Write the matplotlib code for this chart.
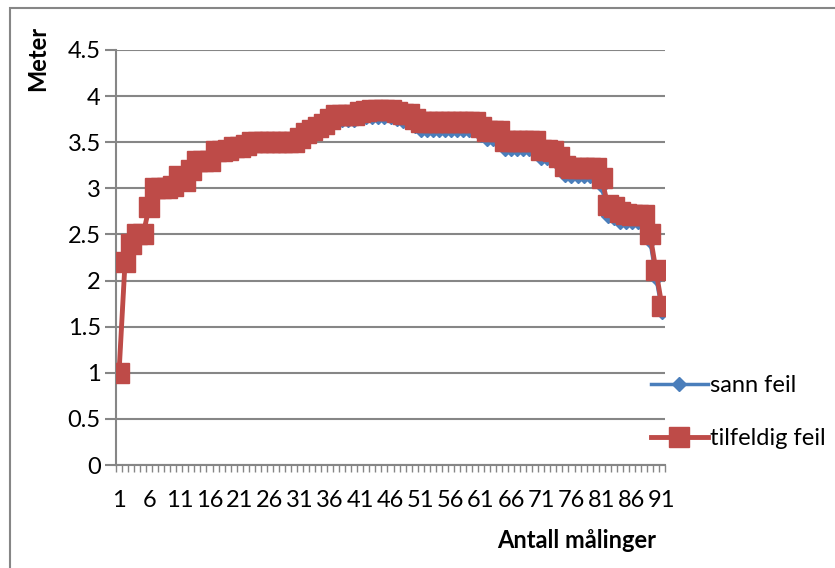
import matplotlib
matplotlib.use("Agg")
import matplotlib.pyplot as plt
from matplotlib.patches import Rectangle

plt.rcParams['font.family'] = ['Lato', 'DejaVu Sans']

# measurement number 1..91
maalinger = list(range(1, 92))

# true error ("sann feil")
sann_feil = [1.0, 2.2, 2.4, 2.5, 2.5, 2.8, 3.0, 3.0, 3.0, 3.0,
             3.1, 3.1, 3.2, 3.3, 3.3, 3.3, 3.4, 3.4, 3.43, 3.43,
             3.43, 3.43, 3.5, 3.5, 3.5, 3.5, 3.5, 3.5, 3.5, 3.5,
             3.53, 3.58, 3.61, 3.64, 3.68, 3.71, 3.74, 3.74, 3.74, 3.74,
             3.76, 3.77, 3.77, 3.77, 3.77, 3.77, 3.75, 3.73, 3.73, 3.68,
             3.63, 3.63, 3.63, 3.63, 3.63, 3.63, 3.63, 3.63, 3.63, 3.63,
             3.58, 3.53, 3.53, 3.53, 3.43, 3.43, 3.43, 3.43, 3.43, 3.43,
             3.33, 3.33, 3.33, 3.25, 3.15, 3.13, 3.13, 3.13, 3.13, 3.13,
             3.02, 2.7, 2.68, 2.63, 2.63, 2.63, 2.63, 2.63, 2.43, 2.03,
             1.66]

# with random error ("tilfeldig feil")
tilfeldig_feil = [1.0, 2.2, 2.4, 2.5, 2.5, 2.8, 3.0, 3.0, 3.0, 3.03,
                  3.13, 3.08, 3.2, 3.3, 3.3, 3.3, 3.4, 3.4, 3.42, 3.45,
                  3.45, 3.47, 3.5, 3.5, 3.5, 3.5, 3.5, 3.5, 3.5, 3.5,
                  3.55, 3.6, 3.63, 3.66, 3.7, 3.75, 3.8, 3.8, 3.8, 3.8,
                  3.83, 3.84, 3.85, 3.85, 3.85, 3.85, 3.83, 3.81, 3.81, 3.75,
                  3.72, 3.72, 3.72, 3.72, 3.72, 3.72, 3.72, 3.72, 3.72, 3.72,
                  3.67, 3.62, 3.62, 3.62, 3.51, 3.51, 3.51, 3.51, 3.51, 3.51,
                  3.42, 3.42, 3.41, 3.34, 3.24, 3.22, 3.22, 3.22, 3.22, 3.22,
                  3.11, 2.82, 2.8, 2.74, 2.72, 2.71, 2.71, 2.71, 2.51, 2.11,
                  1.72]

y_ticks = [0, 0.5, 1, 1.5, 2, 2.5, 3, 3.5, 4, 4.5]
y_ticklabels = ["0", "0.5", "1", "1.5", "2", "2.5", "3", "3.5", "4", "4.5"]
x_ticks = list(range(1, 92, 5))

grey = "#868686"
blue = "#4A7EBB"
red = "#BE4B48"

fig = plt.figure(figsize=(8.35, 5.68), dpi=100)
ax = fig.add_axes([116 / 835, 1 - 465 / 568, 549 / 835, 415 / 568])

ax.plot(maalinger, sann_feil, color=blue, lw=2.5, marker="D", markersize=7,
        label="sann feil", zorder=3)
ax.plot(maalinger, tilfeldig_feil, color=red, lw=3.5, marker="s", markersize=14,
        label="tilfeldig feil", zorder=4)

ax.set_xlim(0.5, 91.5)
ax.set_ylim(0, 4.5)

ax.set_yticks(y_ticks)
ax.set_yticklabels(y_ticklabels)
ax.set_xticks(x_ticks)
ax.set_xticklabels([str(t) for t in x_ticks])
ax.set_xticks([i + 0.5 for i in range(0, 92)], minor=True)

ax.grid(axis="y", color=grey, lw=1.5, zorder=0)
ax.set_axisbelow(True)
for side in ["top", "right"]:
    ax.spines[side].set_visible(False)
for side in ["left", "bottom"]:
    ax.spines[side].set_color(grey)
    ax.spines[side].set_linewidth(1.5)

ax.tick_params(axis="y", length=8, width=1.5, color=grey, labelsize=17, pad=3)
ax.tick_params(axis="x", which="major", length=0, labelsize=17, pad=18)
ax.tick_params(axis="x", which="minor", length=5, width=1, color=grey)

fig.text(38 / 835, 1 - 58 / 568, "Meter", rotation=90, fontsize=17,
         fontweight="bold", ha="center", va="center")
fig.text(577 / 835, 1 - 541 / 568, "Antall målinger", fontsize=17,
         fontweight="bold", ha="center", va="center")

ax.legend(loc="center left", bbox_to_anchor=(651 / 835, 1 - 412 / 568),
          bbox_transform=fig.transFigure, frameon=False, fontsize=17,
          handlelength=2.4, handletextpad=0.1, labelspacing=1.35,
          borderpad=0, borderaxespad=0)

# chart area border
fig.patches.append(Rectangle((10 / 835, -0.1), 1.2, 1.1 - 8 / 568,
                             transform=fig.transFigure, fill=False,
                             edgecolor=grey, lw=1.5))

fig.savefig("out.png", dpi=100)
